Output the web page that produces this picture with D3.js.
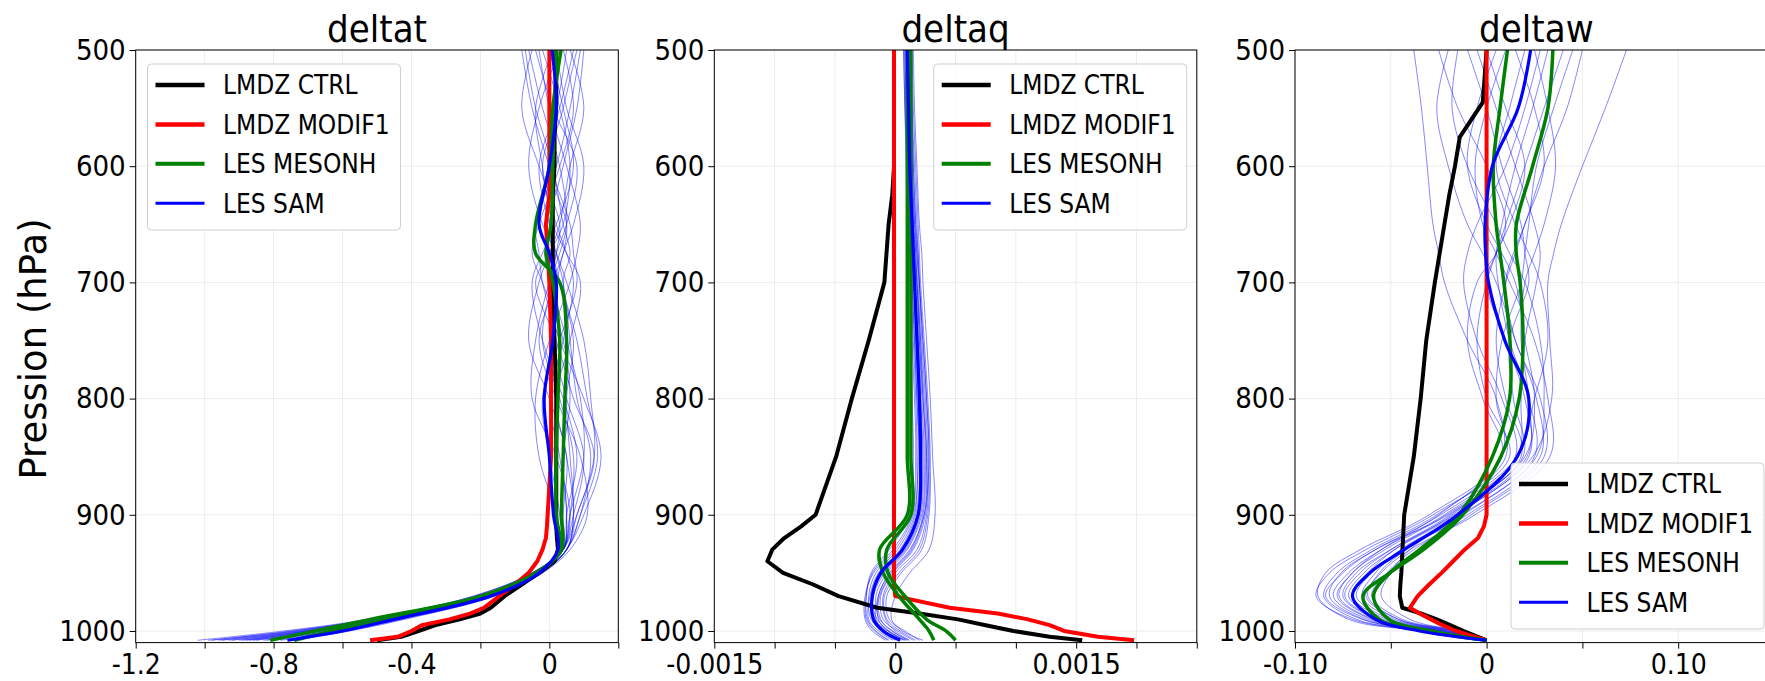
<!DOCTYPE html>
<html>
<head>
<meta charset="utf-8">
<script src="https://d3js.org/d3.v7.min.js"></script>
<style>
  body { margin: 0; background: #fff; }
  text { font-family: 'DejaVu Sans Condensed', 'DejaVu Sans', sans-serif; font-stretch: condensed; fill: #000; }
  .ylab { font-family: 'DejaVu Sans', sans-serif; font-stretch: normal; }
</style>
</head>
<body>
<svg id="chart" width="1765" height="681"></svg>
<script>
// pressure levels (hPa)
const lesP  = [500, 550, 600, 650, 675, 700, 750, 800, 850, 900, 930, 950, 970, 990, 1000, 1008];
const lmdzP = [500, 545, 575, 600, 625, 650, 700, 750, 800, 850, 900, 910, 920, 930, 940, 950, 960, 970, 980, 985, 990, 995, 1000, 1005, 1008];
const pTicks = [500, 600, 700, 800, 900, 1000];
const titles = ['deltat', 'deltaq', 'deltaw'];
const legendNames = ['LMDZ CTRL', 'LMDZ MODIF1', 'LES MESONH', 'LES SAM'];

// x ticks / labels
const tTicks = [-1.2, -1.0, -0.8, -0.6, -0.4, -0.2, 0, 0.2];
const tLabels = ['-1.2', '', '-0.8', '', '-0.4', '', '0', ''];
const qTicks = [-0.0015, -0.001, -0.0005, 0, 0.0005, 0.001, 0.0015, 0.002, 0.0025];
const qLabels = ['-0.0015', '', '', '0', '', '', '0.0015', '', ''];
const wTicks = [-0.10, -0.05, 0, 0.05, 0.10, 0.15];
const wLabels = ['-0.10', '', '0', '', '0.10', ''];

// ---- deltat ----
const tCtrl  = [0.02, 0.02, 0.015, 0.015, 0.01, 0.01, 0.01, 0.015, 0.02, 0.02, 0.02, 0.02, 0.022, 0.025, 0.015, -0.03, -0.08, -0.13, -0.17, -0.2, -0.26, -0.33, -0.38, -0.43, -0.5];
const tModif = [0.0, 0.0, 0.0, 0.0, 0.0, -0.01, 0.0, 0.005, 0.005, 0.005, -0.005, -0.007, -0.01, -0.02, -0.035, -0.06, -0.1, -0.145, -0.19, -0.23, -0.29, -0.37, -0.40, -0.44, -0.52];
const tMeso1 = [0.034, 0.01, 0.0, -0.04, -0.04, 0.03, 0.05, 0.045, 0.04, 0.035, 0.035, -0.04, -0.2, -0.52, -0.68, -0.81];
const tMeso2 = [0.02, 0.015, 0.01, 0.005, -0.01, 0.01, 0.03, 0.025, 0.02, 0.02, 0.03, -0.035, -0.19, -0.47, -0.63, -0.74];
const tSam   = [0.008, 0.02, 0.0, -0.03, 0.0, 0.02, 0.01, -0.015, 0.0, 0.012, 0.025, -0.03, -0.17, -0.45, -0.6, -0.76];
const tSamRuns = [
  [0.05, 0.02, -0.03, 0.0, 0.02, 0.04, 0.06, 0.08, 0.12, 0.09, 0.05, -0.03, -0.19, -0.48, -0.66, -0.85],
  [-0.06, -0.02, 0.03, 0.05, 0.03, 0.0, -0.04, -0.05, 0.02, 0.06, 0.04, -0.04, -0.2, -0.5, -0.7, -0.9],
  [0.09, 0.06, 0.02, -0.04, -0.03, -0.02, 0.03, 0.1, 0.15, 0.1, 0.05, -0.02, -0.17, -0.44, -0.62, -0.8],
  [0.0, 0.04, 0.07, 0.02, -0.02, -0.05, -0.02, 0.04, 0.08, 0.05, 0.04, -0.05, -0.21, -0.52, -0.75, -0.98],
  [-0.08, -0.05, 0.0, 0.06, 0.07, 0.08, 0.03, -0.02, 0.0, 0.03, 0.03, -0.04, -0.2, -0.49, -0.69, -0.88],
  [0.1, 0.08, 0.04, 0.0, 0.01, 0.03, 0.07, 0.05, 0.06, 0.07, 0.05, -0.03, -0.18, -0.46, -0.64, -0.82],
  [0.03, -0.03, -0.06, -0.02, 0.02, 0.05, 0.1, 0.12, 0.13, 0.08, 0.04, -0.04, -0.2, -0.51, -0.72, -0.95],
  [-0.03, 0.0, 0.05, 0.09, 0.08, 0.06, 0.0, -0.04, -0.03, 0.02, 0.03, -0.05, -0.22, -0.53, -0.77, -1.02],
  [0.06, 0.1, 0.06, 0.03, 0.0, -0.03, -0.06, 0.0, 0.05, 0.04, 0.04, -0.03, -0.19, -0.47, -0.66, -0.86],
  [-0.05, -0.08, -0.03, 0.03, 0.02, 0.01, 0.05, 0.09, 0.1, 0.06, 0.04, -0.04, -0.2, -0.5, -0.71, -0.92],
  [0.02, 0.05, 0.1, 0.07, 0.04, 0.02, -0.03, 0.02, 0.09, 0.11, 0.06, -0.02, -0.16, -0.42, -0.58, -0.74],
  [0.07, 0.03, -0.02, 0.02, 0.05, 0.07, 0.04, 0.0, 0.03, 0.05, 0.04, -0.04, -0.19, -0.48, -0.68, -0.89],
  [-0.02, 0.03, 0.06, 0.04, 0.0, -0.04, 0.02, 0.07, 0.13, 0.08, 0.05, -0.03, -0.18, -0.45, -0.63, -0.83],
  [0.04, 0.07, 0.03, -0.03, -0.05, -0.02, 0.04, 0.06, 0.04, 0.05, 0.04, -0.04, -0.2, -0.5, -0.7, -0.93],
  [-0.07, -0.04, 0.01, 0.04, 0.06, 0.04, 0.08, 0.11, 0.14, 0.09, 0.05, -0.02, -0.17, -0.43, -0.6, -0.78],
  [0.08, 0.04, 0.0, 0.05, 0.04, 0.01, -0.02, 0.03, 0.07, 0.06, 0.04, -0.04, -0.21, -0.51, -0.73, -0.96],
  [0.01, -0.04, -0.02, 0.01, 0.05, 0.09, 0.06, 0.02, 0.05, 0.07, 0.05, -0.03, -0.19, -0.47, -0.67, -0.87],
  [-0.04, 0.01, 0.08, 0.05, 0.02, 0.0, 0.01, 0.05, 0.1, 0.07, 0.04, -0.05, -0.22, -0.52, -0.74, -0.99]
];

// ---- deltaq ----
const qCtrl  = [-0.1e-4, -0.1e-4, -0.1e-4, -0.1e-4, -0.25e-4, -0.55e-4, -0.9e-4, -2.2e-4, -3.6e-4, -4.9e-4, -6.6e-4, -7.8e-4, -9.2e-4, -10.2e-4, -10.6e-4, -9.3e-4, -6.8e-4, -4.7e-4, -1.5e-4, 2.0e-4, 5.2e-4, 7.5e-4, 9.8e-4, 12.8e-4, 15.5e-4];
const qModif = [-0.1e-4, -0.1e-4, -0.1e-4, -0.1e-4, -0.1e-4, -0.1e-4, -0.1e-4, -0.1e-4, -0.1e-4, -0.1e-4, -0.1e-4, -0.1e-4, -0.1e-4, -0.1e-4, -0.1e-4, -0.1e-4, -0.1e-4, 0.0, 4.5e-4, 8.5e-4, 11.0e-4, 12.8e-4, 14.0e-4, 16.8e-4, 19.8e-4];
const qMeso1 = [1.0e-4, 1.0e-4, 1.0e-4, 1.0e-4, 1.0e-4, 1.0e-4, 1.0e-4, 1.0e-4, 1.0e-4, 1.0e-4, -1.3e-4, -1.0e-4, 0.3e-4, 2.0e-4, 2.8e-4, 3.2e-4];
const qMeso2 = [1.3e-4, 1.3e-4, 1.3e-4, 1.3e-4, 1.3e-4, 1.3e-4, 1.3e-4, 1.3e-4, 1.3e-4, 1.3e-4, -0.7e-4, -0.6e-4, 0.8e-4, 2.6e-4, 4.2e-4, 5.0e-4];
const qSam   = [1.0e-4, 1.1e-4, 1.2e-4, 1.4e-4, 1.5e-4, 1.6e-4, 1.8e-4, 2.0e-4, 2.1e-4, 1.9e-4, 0.6e-4, -1.2e-4, -1.9e-4, -1.8e-4, -1.0e-4, 0.4e-4];
const qSamRuns = [
  [0.8e-4, 0.9e-4, 1.0e-4, 1.1e-4, 1.2e-4, 1.3e-4, 1.5e-4, 1.7e-4, 1.8e-4, 1.6e-4, 0.2e-4, -1.6e-4, -2.2e-4, -2.0e-4, -1.0e-4, 0.2e-4],
  [1.0e-4, 1.1e-4, 1.2e-4, 1.4e-4, 1.5e-4, 1.6e-4, 1.8e-4, 2.0e-4, 2.2e-4, 2.0e-4, 0.8e-4, -1.0e-4, -1.9e-4, -1.5e-4, -0.5e-4, 0.8e-4],
  [1.2e-4, 1.3e-4, 1.4e-4, 1.6e-4, 1.8e-4, 1.9e-4, 2.1e-4, 2.4e-4, 2.6e-4, 2.5e-4, 1.5e-4, -0.2e-4, -1.2e-4, -1.0e-4, 0.2e-4, 1.5e-4],
  [0.7e-4, 0.8e-4, 0.9e-4, 1.0e-4, 1.1e-4, 1.2e-4, 1.3e-4, 1.4e-4, 1.5e-4, 1.2e-4, -0.5e-4, -2.0e-4, -2.4e-4, -2.3e-4, -1.6e-4, -0.5e-4],
  [1.4e-4, 1.5e-4, 1.7e-4, 1.9e-4, 2.0e-4, 2.1e-4, 2.4e-4, 2.7e-4, 2.9e-4, 2.8e-4, 2.2e-4, 0.5e-4, -0.7e-4, -0.5e-4, 0.8e-4, 2.0e-4],
  [0.9e-4, 1.0e-4, 1.1e-4, 1.3e-4, 1.4e-4, 1.5e-4, 1.7e-4, 1.9e-4, 2.0e-4, 1.8e-4, 0.5e-4, -1.3e-4, -2.0e-4, -1.8e-4, -0.8e-4, 0.4e-4],
  [1.1e-4, 1.2e-4, 1.3e-4, 1.5e-4, 1.6e-4, 1.8e-4, 2.0e-4, 2.2e-4, 2.4e-4, 2.2e-4, 1.0e-4, -0.7e-4, -1.6e-4, -1.3e-4, -0.2e-4, 1.0e-4],
  [1.5e-4, 1.6e-4, 1.8e-4, 2.0e-4, 2.2e-4, 2.3e-4, 2.6e-4, 2.9e-4, 3.1e-4, 3.3e-4, 2.8e-4, 1.2e-4, 0.0, -0.3e-4, 0.6e-4, 2.3e-4],
  [0.8e-4, 0.9e-4, 1.0e-4, 1.2e-4, 1.3e-4, 1.4e-4, 1.6e-4, 1.8e-4, 1.9e-4, 1.5e-4, 0.0, -1.8e-4, -2.5e-4, -2.5e-4, -1.9e-4, -0.8e-4],
  [1.3e-4, 1.4e-4, 1.5e-4, 1.7e-4, 1.9e-4, 2.0e-4, 2.2e-4, 2.5e-4, 2.7e-4, 2.6e-4, 1.8e-4, 0.0, -1.0e-4, -0.8e-4, 0.0, 1.2e-4],
  [1.0e-4, 1.0e-4, 1.1e-4, 1.2e-4, 1.3e-4, 1.4e-4, 1.6e-4, 1.8e-4, 2.0e-4, 1.7e-4, 0.4e-4, -1.4e-4, -2.1e-4, -2.2e-4, -1.4e-4, -0.2e-4],
  [1.2e-4, 1.3e-4, 1.5e-4, 1.7e-4, 1.8e-4, 2.0e-4, 2.3e-4, 2.6e-4, 2.8e-4, 2.4e-4, 1.2e-4, -0.5e-4, -1.4e-4, -1.6e-4, -0.9e-4, 0.5e-4],
  [0.9e-4, 1.0e-4, 1.2e-4, 1.3e-4, 1.4e-4, 1.6e-4, 1.9e-4, 2.1e-4, 2.3e-4, 2.1e-4, 0.9e-4, -0.9e-4, -1.8e-4, -1.7e-4, -0.6e-4, 0.7e-4],
  [1.1e-4, 1.2e-4, 1.4e-4, 1.6e-4, 1.7e-4, 1.8e-4, 2.0e-4, 2.3e-4, 2.5e-4, 2.3e-4, 1.3e-4, -0.4e-4, -1.4e-4, -1.2e-4, -0.3e-4, 1.1e-4],
  [0.7e-4, 0.8e-4, 1.0e-4, 1.1e-4, 1.2e-4, 1.3e-4, 1.4e-4, 1.6e-4, 1.7e-4, 1.4e-4, -0.2e-4, -1.9e-4, -2.4e-4, -2.4e-4, -1.7e-4, -0.6e-4],
  [1.3e-4, 1.4e-4, 1.6e-4, 1.8e-4, 1.9e-4, 2.0e-4, 2.3e-4, 2.6e-4, 2.8e-4, 2.7e-4, 2.0e-4, 0.3e-4, -0.9e-4, -0.7e-4, 0.4e-4, 1.7e-4],
  [1.0e-4, 1.1e-4, 1.3e-4, 1.5e-4, 1.6e-4, 1.7e-4, 1.9e-4, 2.1e-4, 2.2e-4, 1.9e-4, 0.6e-4, -1.1e-4, -1.9e-4, -1.9e-4, -1.2e-4, 0.0],
  [1.2e-4, 1.3e-4, 1.4e-4, 1.5e-4, 1.7e-4, 1.8e-4, 2.1e-4, 2.3e-4, 2.6e-4, 2.4e-4, 1.4e-4, -0.3e-4, -1.3e-4, -1.4e-4, -0.6e-4, 0.9e-4]
];

// ---- deltaw ----
const wCtrl  = [0.0, -0.2e-2, -1.4e-2, -1.65e-2, -1.95e-2, -2.2e-2, -2.7e-2, -3.15e-2, -3.44e-2, -3.8e-2, -4.3e-2, -4.33e-2, -4.36e-2, -4.39e-2, -4.42e-2, -4.45e-2, -4.5e-2, -4.53e-2, -4.4e-2, -3.4e-2, -2.6e-2, -1.9e-2, -1.2e-2, -0.45e-2, 0.0];
const wModif = [0.0, 0.0, 0.0, 0.0, 0.0, 0.0, 0.0, 0.0, 0.0, 0.0, 0.0, -0.14e-2, -0.45e-2, -1.15e-2, -1.75e-2, -2.35e-2, -3.0e-2, -3.6e-2, -4.0e-2, -3.5e-2, -2.9e-2, -2.3e-2, -1.6e-2, -0.6e-2, 0.0];
const wMeso1 = [1.09e-2, 0.7e-2, 0.35e-2, 0.5e-2, 0.7e-2, 0.9e-2, 1.22e-2, 1.2e-2, 0.3e-2, -1.45e-2, -3.5e-2, -5.05e-2, -5.9e-2, -5.1e-2, -2.9e-2, 0.0];
const wMeso2 = [3.46e-2, 3.2e-2, 2.4e-2, 1.55e-2, 1.55e-2, 1.75e-2, 1.9e-2, 1.7e-2, 0.74e-2, -1.25e-2, -3.3e-2, -5.05e-2, -6.45e-2, -5.6e-2, -3.2e-2, 0.0];
const wSam   = [2.3e-2, 1.65e-2, 0.3e-2, -0.08e-2, -0.05e-2, 0.1e-2, 0.95e-2, 2.2e-2, 1.6e-2, -1.5e-2, -4.3e-2, -6.1e-2, -7.0e-2, -5.8e-2, -3.5e-2, 0.0];
const wSamRuns = [
  [7.3e-2, 6.2e-2, 5.0e-2, 3.9e-2, 3.5e-2, 3.2e-2, 3.3e-2, 3.4e-2, 2.4e-2, -1.5e-2, -4.0e-2, -5.0e-2, -5.5e-2, -4.0e-2, -1.5e-2, 0.0],
  [-3.8e-2, -3.4e-2, -3.1e-2, -2.8e-2, -2.5e-2, -2.2e-2, -1.0e-2, 0.5e-2, 0.8e-2, -2.5e-2, -5.5e-2, -7.0e-2, -7.8e-2, -6.0e-2, -2.5e-2, 0.0],
  [1.5e-2, 2.5e-2, 3.0e-2, 2.0e-2, 1.5e-2, 1.0e-2, 0.5e-2, 1.0e-2, 1.8e-2, -1.8e-2, -4.8e-2, -6.2e-2, -7.0e-2, -5.2e-2, -2.0e-2, 0.0],
  [0.5e-2, -0.5e-2, -1.0e-2, 0.0, 0.8e-2, 1.5e-2, 2.0e-2, 2.5e-2, 2.0e-2, -2.0e-2, -5.8e-2, -7.5e-2, -8.4e-2, -6.5e-2, -2.8e-2, 0.0],
  [4.0e-2, 3.0e-2, 2.0e-2, 1.0e-2, 0.5e-2, 0.0, -0.5e-2, 0.0, 1.2e-2, -2.8e-2, -6.3e-2, -8.2e-2, -8.9e-2, -7.0e-2, -3.2e-2, 0.0],
  [-1.5e-2, -1.8e-2, -1.0e-2, 0.5e-2, 1.2e-2, 2.0e-2, 2.8e-2, 3.0e-2, 2.6e-2, -1.3e-2, -4.5e-2, -5.8e-2, -6.5e-2, -4.8e-2, -1.8e-2, 0.0],
  [2.8e-2, 2.0e-2, 1.0e-2, -0.5e-2, -1.0e-2, -1.2e-2, -0.5e-2, 0.8e-2, 1.5e-2, -2.2e-2, -5.5e-2, -7.2e-2, -8.0e-2, -6.2e-2, -2.6e-2, 0.0],
  [-0.5e-2, 0.5e-2, 1.5e-2, 2.5e-2, 2.8e-2, 2.6e-2, 2.0e-2, 1.8e-2, 1.6e-2, -1.9e-2, -5.0e-2, -6.6e-2, -7.4e-2, -5.6e-2, -2.3e-2, 0.0],
  [5.0e-2, 4.2e-2, 3.0e-2, 2.0e-2, 1.4e-2, 1.0e-2, 1.5e-2, 2.8e-2, 3.0e-2, -0.8e-2, -3.8e-2, -5.2e-2, -6.0e-2, -4.4e-2, -1.4e-2, 0.0],
  [-2.5e-2, -1.5e-2, 0.0, 1.0e-2, 0.5e-2, -0.5e-2, -1.0e-2, -0.2e-2, 0.8e-2, -3.0e-2, -6.6e-2, -8.4e-2, -8.8e-2, -7.2e-2, -3.3e-2, 0.0],
  [2.0e-2, 1.2e-2, 0.5e-2, 1.5e-2, 2.2e-2, 2.8e-2, 3.2e-2, 2.5e-2, 1.6e-2, -2.4e-2, -5.8e-2, -7.6e-2, -8.2e-2, -6.4e-2, -2.9e-2, 0.0],
  [0.0, 1.0e-2, 2.0e-2, 1.2e-2, 0.5e-2, 0.0, 1.0e-2, 2.0e-2, 2.2e-2, -1.6e-2, -4.8e-2, -6.4e-2, -7.2e-2, -5.4e-2, -2.1e-2, 0.0],
  [3.2e-2, 2.4e-2, 1.5e-2, 0.8e-2, 0.5e-2, 0.6e-2, 1.2e-2, 2.2e-2, 2.5e-2, -1.2e-2, -4.2e-2, -5.6e-2, -6.2e-2, -4.6e-2, -1.6e-2, 0.0],
  [-2.0e-2, -2.6e-2, -2.0e-2, -1.0e-2, -0.2e-2, 0.5e-2, 1.5e-2, 2.6e-2, 2.8e-2, -1.0e-2, -4.4e-2, -6.0e-2, -6.8e-2, -5.0e-2, -1.9e-2, 0.0],
  [1.0e-2, 0.0, -0.6e-2, -0.2e-2, 0.5e-2, 1.2e-2, 2.5e-2, 3.2e-2, 3.3e-2, -0.6e-2, -4.0e-2, -5.5e-2, -6.3e-2, -4.6e-2, -1.7e-2, 0.0],
  [4.5e-2, 3.5e-2, 2.6e-2, 2.2e-2, 2.0e-2, 1.8e-2, 0.8e-2, 0.5e-2, 1.0e-2, -2.6e-2, -6.0e-2, -7.8e-2, -8.5e-2, -6.8e-2, -3.0e-2, 0.0],
  [-1.0e-2, 0.0, 0.8e-2, 1.8e-2, 2.0e-2, 2.2e-2, 1.2e-2, 1.4e-2, 1.9e-2, -2.1e-2, -5.3e-2, -7.0e-2, -7.7e-2, -5.9e-2, -2.4e-2, 0.0],
  [2.5e-2, 3.2e-2, 3.6e-2, 3.0e-2, 2.5e-2, 2.0e-2, 1.8e-2, 2.2e-2, 2.1e-2, -1.7e-2, -5.0e-2, -6.8e-2, -7.5e-2, -5.7e-2, -2.2e-2, 0.0]
];

const svg = d3.select('#chart');
const yTop = 50, yBot = 642.6;
const y = d3.scaleLinear().domain([500, 1010]).range([yTop, yBot]);

const panels = [
  {title: titles[0], left: 135.7, width: 482.6, domain: [-1.2, 0.2], ticks: tTicks, labels: tLabels,
   ctrl: tCtrl, modif: tModif, meso: [tMeso1, tMeso2], sam: tSam, runs: tSamRuns, legend: [147.5, 64]},
  {title: titles[1], left: 714.3, width: 482.5, domain: [-0.0015, 0.0025], ticks: qTicks, labels: qLabels,
   ctrl: qCtrl, modif: qModif, meso: [qMeso1, qMeso2], sam: qSam, runs: qSamRuns, legend: [933.7, 64]},
  {title: titles[2], left: 1295, width: 482.8, domain: [-0.10, 0.152], ticks: wTicks, labels: wLabels,
   ctrl: wCtrl, modif: wModif, meso: [wMeso1, wMeso2], sam: wSam, runs: wSamRuns, legend: [1511, 463]}
];

const legendStyle = [
  {color: '#000', w: 4.5},
  {color: '#ff0000', w: 4.5},
  {color: '#008000', w: 4},
  {color: '#0000ff', w: 3}
];

panels.forEach((pn, k) => {
  const x = d3.scaleLinear().domain(pn.domain).range([pn.left, pn.left + pn.width]);
  const g = svg.append('g');

  // grid
  g.append('g').selectAll('line').data(pn.ticks).join('line')
    .attr('x1', d => x(d)).attr('x2', d => x(d))
    .attr('y1', yTop).attr('y2', yBot)
    .attr('stroke', '#ececec').attr('stroke-width', 1);
  g.append('g').selectAll('line').data(pTicks).join('line')
    .attr('x1', pn.left).attr('x2', pn.left + pn.width)
    .attr('y1', d => y(d)).attr('y2', d => y(d))
    .attr('stroke', '#ececec').attr('stroke-width', 1);

  svg.append('clipPath').attr('id', 'clip' + k).append('rect')
    .attr('x', pn.left).attr('y', yTop).attr('width', pn.width).attr('height', yBot - yTop);
  const lines = g.append('g').attr('clip-path', `url(#clip${k})`);

  const lesLine = d3.line().x(d => x(d[0])).y(d => y(d[1])).curve(d3.curveCatmullRom);
  const lmdzLine = d3.line().x(d => x(d[0])).y(d => y(d[1]));
  const les = v => v.map((d, i) => [d, lesP[i]]);
  const lmdz = v => v.map((d, i) => [d, lmdzP[i]]);

  lines.selectAll('.run').data(pn.runs).join('path')
    .attr('d', d => lesLine(les(d)))
    .attr('fill', 'none').attr('stroke', '#0000ff').attr('stroke-width', 0.8).attr('stroke-opacity', 0.6);
  lines.append('path').attr('d', lmdzLine(lmdz(pn.ctrl)))
    .attr('fill', 'none').attr('stroke', '#000').attr('stroke-width', 4).attr('stroke-linejoin', 'round');
  lines.append('path').attr('d', lmdzLine(lmdz(pn.modif)))
    .attr('fill', 'none').attr('stroke', '#ff0000').attr('stroke-width', 4).attr('stroke-linejoin', 'round');
  lines.selectAll('.meso').data(pn.meso).join('path')
    .attr('d', d => lesLine(les(d)))
    .attr('fill', 'none').attr('stroke', '#008000').attr('stroke-width', 3.5);
  lines.append('path').attr('d', lesLine(les(pn.sam)))
    .attr('fill', 'none').attr('stroke', '#0000ff').attr('stroke-width', 3.2);

  // frame
  g.append('rect').attr('x', pn.left).attr('y', yTop)
    .attr('width', pn.width).attr('height', yBot - yTop)
    .attr('fill', 'none').attr('stroke', '#000').attr('stroke-width', 1);

  // axes
  const ax = g.append('g').attr('transform', `translate(0,${yBot})`)
    .call(d3.axisBottom(x).tickValues(pn.ticks).tickFormat((d, i) => pn.labels[i]).tickSize(6).tickPadding(6));
  const ay = g.append('g').attr('transform', `translate(${pn.left},0)`)
    .call(d3.axisLeft(y).tickValues(pTicks).tickFormat(d3.format('d')).tickSize(6).tickPadding(4));
  [ax, ay].forEach(a => {
    a.select('.domain').remove();
    a.selectAll('line').attr('stroke', '#000');
    a.selectAll('text').attr('font-size', 29).attr('font-family', null).attr('fill', '#000');
    a.selectAll('text').filter(function () { return this.textContent === ''; }).remove();
  });
  ax.selectAll('text').attr('font-size', 28);

  // title
  g.append('text').attr('x', pn.left + pn.width / 2).attr('y', 41.5)
    .attr('text-anchor', 'middle').attr('font-size', 38).text(pn.title);

  // legend
  const [lx, ly] = pn.legend;
  const lg = g.append('g');
  lg.append('rect').attr('x', lx).attr('y', ly).attr('width', 253).attr('height', 166)
    .attr('rx', 4).attr('fill', '#fff').attr('fill-opacity', 0.85)
    .attr('stroke', '#d0d0d0').attr('stroke-width', 1);
  legendNames.forEach((name, i) => {
    const yy = ly + 21 + i * 39.4;
    lg.append('line').attr('x1', lx + 8).attr('x2', lx + 57).attr('y1', yy).attr('y2', yy)
      .attr('stroke', legendStyle[i].color).attr('stroke-width', legendStyle[i].w);
    lg.append('text').attr('x', lx + 75.5).attr('y', yy).attr('dy', '0.36em')
      .attr('font-size', 26).text(name);
  });
});

// y axis label
svg.append('text').attr('class', 'ylab')
  .attr('transform', 'translate(46,349) rotate(-90)')
  .attr('text-anchor', 'middle').attr('font-size', 37).text('Pression (hPa)');
</script>
</body>
</html>
